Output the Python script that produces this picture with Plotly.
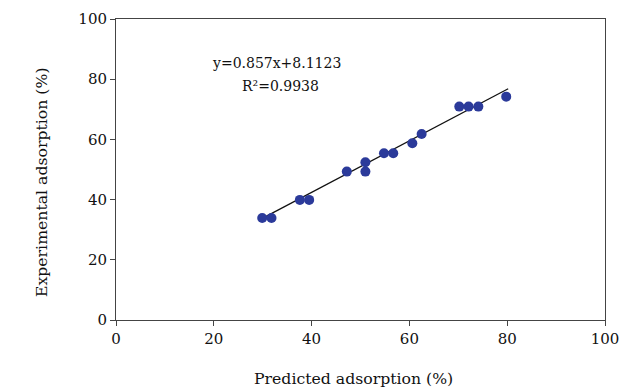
import plotly.graph_objects as go

predicted = [29.9, 31.8, 37.6, 39.5, 47.2, 51.0, 51.0, 54.8, 56.7, 60.6, 62.5, 70.2, 72.1, 74.1, 79.8]
experimental = [33.9, 33.9, 39.9, 39.9, 49.3, 52.4, 49.3, 55.4, 55.4, 58.7, 61.8, 70.9, 70.9, 70.9, 74.2]
slope = 0.857
intercept = 8.1123
fit_x = [30.3, 80.2]
fit_y = [slope * x + intercept for x in fit_x]
eq_text = "y=0.857x+8.1123"
r2_text = "R²=0.9938"
x_title = "Predicted adsorption (%)"
y_title = "Experimental adsorption (%)"
ticks = [0, 20, 40, 60, 80, 100]

FONT = "DejaVu Serif"
TXT = "#111111"

fig = go.Figure()
fig.add_trace(go.Scatter(x=fit_x, y=fit_y, mode="lines",
                         line=dict(color="#111111", width=1.3), showlegend=False))
fig.add_trace(go.Scatter(x=predicted, y=experimental, mode="markers",
                         marker=dict(color="#2B3A9A", size=10), showlegend=False))

fig.add_annotation(x=32.9, y=85.3, xref="x", yref="y", text=eq_text, showarrow=False,
                   font=dict(family=FONT, size=14, color=TXT))
fig.add_annotation(x=33.7, y=77.8, xref="x", yref="y", text=r2_text, showarrow=False,
                   font=dict(family=FONT, size=14, color=TXT))

fig.add_annotation(x=0.485, y=-0.193, xref="paper", yref="paper", text=x_title,
                   showarrow=False, xanchor="center", yanchor="middle",
                   font=dict(family=FONT, size=15.7, color=TXT))
fig.add_annotation(x=-0.151, y=0.459, xref="paper", yref="paper", text=y_title,
                   showarrow=False, xanchor="center", yanchor="middle", textangle=-90,
                   font=dict(family=FONT, size=15.7, color=TXT))

axis_common = dict(range=[0, 100], tickvals=ticks, ticktext=[str(t) for t in ticks],
                   showgrid=False, zeroline=False, showline=True, linecolor="#444444",
                   linewidth=1, mirror=True, ticks="outside", ticklen=5, tickcolor="#444444",
                   automargin=False, ticklabeloverflow="allow",
                   tickfont=dict(family=FONT, size=15, color=TXT))

fig.update_xaxes(**axis_common)
fig.update_yaxes(**axis_common)

fig.update_layout(width=619, height=388, plot_bgcolor="white", paper_bgcolor="white",
                  margin=dict(l=116, r=14, t=19, b=68))

fig.write_html("out.html", config={"displayModeBar": False},
               post_script="document.body.style.margin='0';document.body.style.overflow='hidden';")
